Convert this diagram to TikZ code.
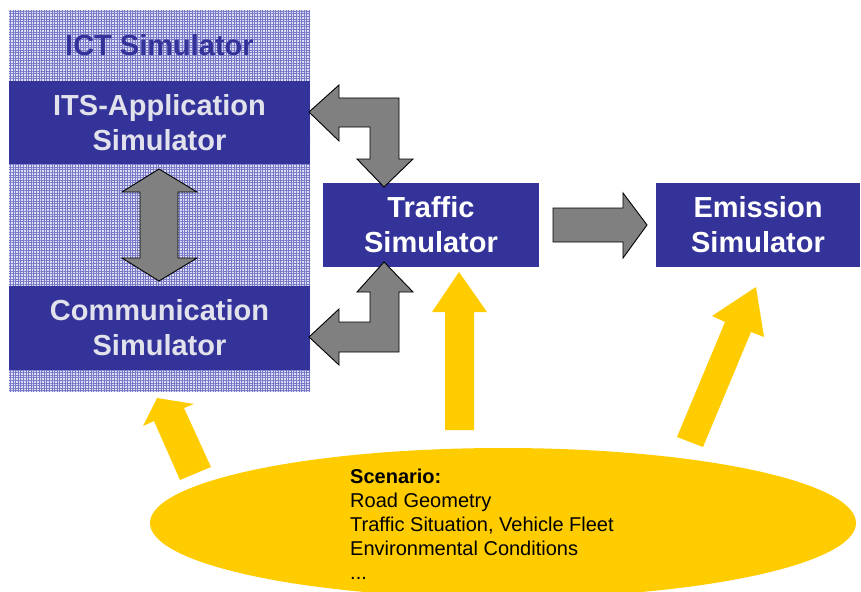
\documentclass[tikz,border=0pt]{standalone}
\usepackage{fontspec}
\setmainfont{Liberation Sans}
\usetikzlibrary{patterns.meta}
\definecolor{boxblue}{RGB}{51,51,153}
\definecolor{gridbg}{RGB}{222,222,244}
\definecolor{gridline}{RGB}{120,120,200}
\definecolor{arrgray}{RGB}{128,128,128}
\definecolor{scyellow}{RGB}{255,204,0}
\definecolor{lighttxt}{RGB}{226,226,236}
\tikzset{
  simbox/.style={fill=boxblue, inner sep=0pt, align=center,
    font=\fontsize{29}{35}\selectfont\bfseries},
  grayarrow/.style={fill=arrgray, draw=black, line width=0.9pt, line join=miter},
  yellowarrow/.style={fill=scyellow, draw=none},
}
\begin{document}
\begin{tikzpicture}[x=1pt,y=-1pt]
\path[use as bounding box] (0,0) rectangle (861,591);
% ICT background
\fill[gridbg] (9,10) rectangle (310,392);
\fill[pattern={Hatch[angle=0,distance=2.6pt,line width=0.9pt]}, pattern color=gridline] (9,10) rectangle (310,392);
\node[font=\fontsize{29}{35}\selectfont\bfseries, text=boxblue, inner sep=0pt] (ict) at (159.5,45) {ICT Simulator};
% boxes
\node[simbox, text=lighttxt, minimum width=301pt, minimum height=83pt] (its) at (159.5,122.5) {ITS-Application\\Simulator};
\node[simbox, text=lighttxt, minimum width=301pt, minimum height=84pt] (comm) at (159.5,328) {Communication\\Simulator};
\node[simbox, text=white, minimum width=216pt, minimum height=84pt] (traffic) at (431,225) {Traffic\\Simulator};
\node[simbox, text=white, minimum width=204pt, minimum height=84pt] (emission) at (758,225) {Emission\\Simulator};
% ellipse
\fill[scyellow] (503,523) ellipse [x radius=353, y radius=75];
\node[anchor=north west, align=left, inner sep=0pt, font=\fontsize{20}{24}\selectfont] (scen) at (350,469)
  {\textbf{Scenario:}\\Road Geometry\\Traffic Situation, Vehicle Fleet\\Environmental Conditions\\...};
% gray arrows
\draw[grayarrow] (159,169) -- (197,192) -- (178,192) -- (178,258) -- (197,258) -- (159,281)
  -- (122,258) -- (140,258) -- (140,192) -- (122,192) -- cycle;
\draw[grayarrow] (309,112) -- (339,85) -- (339,98) -- (399,98) -- (399,159) -- (413,159) -- (384,187)
  -- (357,159) -- (370,159) -- (370,127) -- (339,127) -- (339,141) -- cycle;
\draw[grayarrow] (384,262) -- (413,292) -- (399,292) -- (399,352) -- (339,352) -- (339,365) -- (309,337)
  -- (339,309) -- (339,322) -- (370,322) -- (370,292) -- (357,292) -- cycle;
\draw[grayarrow] (553,208) -- (623,208) -- (623,193) -- (647,225) -- (623,258) -- (623,242) -- (553,242) -- cycle;
% yellow arrows
\fill[yellowarrow] (459,272) -- (487,312) -- (474,312) -- (474,430) -- (445,430) -- (445,312) -- (432,312) -- cycle;
\fill[yellowarrow] (756,287) -- (764,337) -- (751,332) -- (703,447) -- (677,437) -- (725,322) -- (712,316) -- cycle;
\fill[yellowarrow] (157,398) -- (194,404) -- (184,408) -- (211,467) -- (180,480) -- (154,421) -- (143,426) -- cycle;
\end{tikzpicture}
\end{document}
